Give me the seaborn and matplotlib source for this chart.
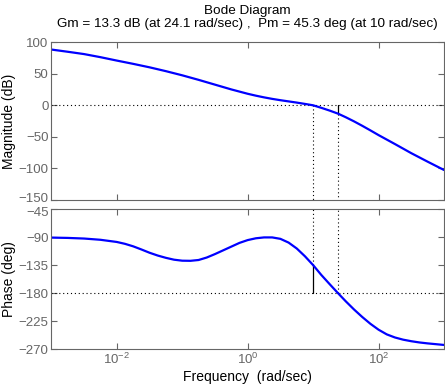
import numpy as np
import pandas as pd
import matplotlib
matplotlib.use("Agg")
import matplotlib.pyplot as plt
import matplotlib.transforms as mtrans
import seaborn as sns

# ---- data ----
mag_logw = [-3.0, -2.75, -2.5, -2.25, -2.0, -1.75, -1.5, -1.25, -1.0, -0.75,
            -0.5, -0.25, 0.0, 0.125, 0.25, 0.375, 0.5, 0.625, 0.75, 0.875,
            1.0, 1.125, 1.25, 1.382, 1.5, 1.625, 1.75, 1.875, 2.0, 2.25,
            2.5, 2.75, 3.0]
mag_db = [88.5, 85.0, 81.3, 76.4, 71.0, 65.8, 60.3, 54.2, 47.6, 40.4,
          32.8, 25.2, 18.3, 15.3, 12.6, 10.2, 8.1, 6.2, 4.3, 2.2,
          0.0, -4.0, -8.3, -13.3, -19.0, -25.5, -32.5, -39.8, -47.3, -61.5,
          -76.0, -89.5, -102.7]

ph_logw = [-3.0, -2.75, -2.5, -2.25, -2.0, -1.875, -1.75, -1.625, -1.5, -1.375,
           -1.25, -1.125, -1.0, -0.875, -0.75, -0.625, -0.5, -0.375, -0.25, -0.125,
           0.0, 0.125, 0.25, 0.375, 0.5, 0.625, 0.75, 0.875, 1.0, 1.125,
           1.25, 1.382, 1.5, 1.625, 1.75, 1.875, 2.0, 2.125, 2.25, 2.375,
           2.5, 2.625, 2.75, 3.0]
ph_deg = [-90.5, -91.0, -92.0, -94.0, -97.5, -100.5, -104.5, -109.5, -114.8, -119.3,
          -123.0, -126.0, -127.6, -127.8, -126.5, -122.5, -117.0, -111.0, -105.0, -99.0,
          -94.5, -91.6, -90.2, -90.2, -92.5, -98.5, -108.0, -120.5, -134.7, -150.5,
          -165.0, -180.0, -193.0, -206.0, -218.0, -229.0, -238.5, -246.0, -251.0, -254.5,
          -257.0, -259.0, -260.5, -263.0]

gm_db = 13.3
gm_w = 24.1
pm_deg = 45.3
pm_w = 10.0

mag_ticks = [100, 50, 0, -50, -100, -150]
ph_ticks = [-45, -90, -135, -180, -225, -270]
x_ticks = [1e-2, 1e0, 1e2]

title_text = "Bode Diagram\nGm = 13.3 dB (at 24.1 rad/sec) ,  Pm = 45.3 deg (at 10 rad/sec)"

# ---- tables ----
mag_df = pd.DataFrame({"w": 10.0 ** np.array(mag_logw), "mag": mag_db})
ph_df = pd.DataFrame({"w": 10.0 ** np.array(ph_logw), "phase": ph_deg})

sns.set_theme(style="ticks")
plt.rcParams["font.family"] = ["Liberation Sans", "DejaVu Sans"]
plt.rcParams["font.size"] = 9.5
plt.rcParams["axes.edgecolor"] = "#666666"
plt.rcParams["xtick.color"] = "#666666"
plt.rcParams["ytick.color"] = "#666666"
plt.rcParams["xtick.direction"] = "in"
plt.rcParams["ytick.direction"] = "in"

fig = plt.figure(figsize=(4.45, 3.87), dpi=100)
ax1 = fig.add_axes([0.1153, 0.4837, 0.8825, 0.4070])
ax2 = fig.add_axes([0.1153, 0.0974, 0.8825, 0.3618])

dot = (0, (1, 2.5))

for ax in (ax1, ax2):
    ax.set_xscale("log")
    ax.set_xlim(1e-3, 1e3)
    ax.set_xticks(x_ticks)
    ax.minorticks_off()
    ax.tick_params(which="both", top=True, right=True, length=4, width=0.8,
                   labelsize=9.5, labelcolor="#666666", pad=2)
    for s in ax.spines.values():
        s.set_linewidth(0.8)
        s.set_color("#666666")

# magnitude
ax1.set_ylim(-150, 100)
ax1.set_yticks(mag_ticks)
ax1.set_yticklabels([str(t).replace("-", "\u2212") for t in mag_ticks])
ax1.tick_params(labelbottom=False)
ax1.axhline(0, color="black", ls=dot, lw=0.8)
ax1.plot([pm_w, pm_w], [0, -150], color="black", ls=dot, lw=0.8)
ax1.plot([gm_w, gm_w], [-gm_db, -150], color="black", ls=dot, lw=0.8)
ax1.plot([gm_w, gm_w], [0, -gm_db], color="black", lw=0.9)
sns.lineplot(data=mag_df, x="w", y="mag", ax=ax1, color="#0000ff", lw=1.6,
             sort=False, estimator=None)
ax1.set_xlabel("")
ax1.set_ylabel("Magnitude (dB)", color="black", fontsize=10, labelpad=2)
ax1.set_title(title_text, fontsize=9.7, color="black", pad=11, linespacing=1.1)

# phase
ax2.set_ylim(-270, -45)
ax2.set_yticks(ph_ticks)
ax2.set_yticklabels([str(t).replace("-", "\u2212") for t in ph_ticks])
ax2.axhline(-180, color="black", ls=dot, lw=0.8)
ax2.plot([pm_w, pm_w], [-180 + pm_deg, -45], color="black", ls=dot, lw=0.8)
ax2.plot([gm_w, gm_w], [-180, -45], color="black", ls=dot, lw=0.8)
ax2.plot([pm_w, pm_w], [-180, -180 + pm_deg], color="black", lw=0.9)
sns.lineplot(data=ph_df, x="w", y="phase", ax=ax2, color="#0000ff", lw=1.6,
             sort=False, estimator=None)
ax2.set_xlabel("Frequency  (rad/sec)", color="black", fontsize=10, labelpad=2)
ax2.set_ylabel("Phase (deg)", color="black", fontsize=10, labelpad=2)

# nudge the two touching labels (-150 / -45) apart slightly
fig.canvas.draw()
lab_bottom = ax1.get_yticklabels()[-1]
lab_top = ax2.get_yticklabels()[0]
lab_bottom.set_transform(lab_bottom.get_transform() +
                         mtrans.ScaledTranslation(0, 2.5 / 100, fig.dpi_scale_trans))
lab_top.set_transform(lab_top.get_transform() +
                      mtrans.ScaledTranslation(0, -2.5 / 100, fig.dpi_scale_trans))

fig.savefig("out.png", dpi=100)
